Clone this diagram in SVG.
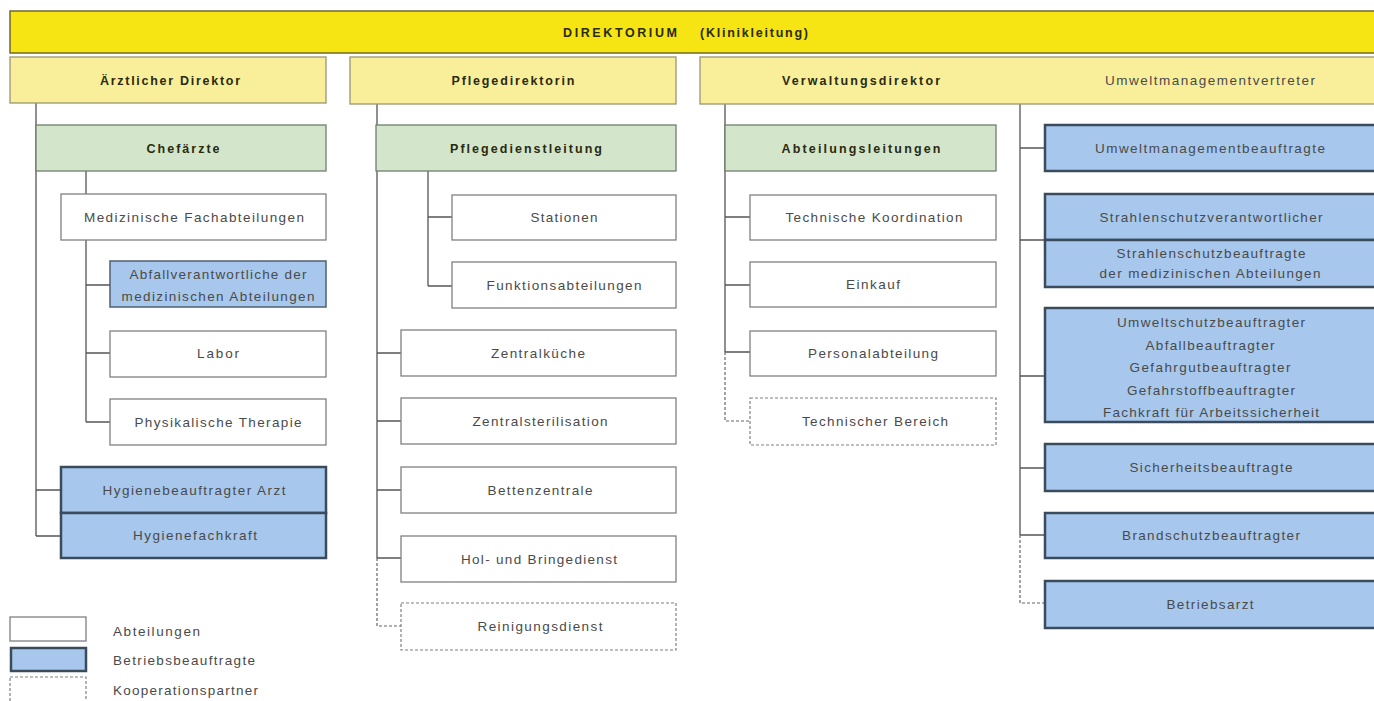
<svg xmlns="http://www.w3.org/2000/svg" width="1374" height="701" viewBox="0 0 1374 701">
<style>
text{font-family:"Liberation Sans",Arial,sans-serif;font-size:13.5px;fill:#4a4a4a;text-anchor:middle}
text.b{font-weight:bold;font-size:12.5px;fill:#2a2a10}
text.l{text-anchor:start}
.top{fill:#f6e512;stroke:#6f6a30;stroke-width:1.5}
.dir{fill:#f9ef9a;stroke:#9a9575;stroke-width:1.3}
.lead{fill:#d3e6cb;stroke:#6f7f6f;stroke-width:1.3}
.dept{fill:#fff;stroke:#808080;stroke-width:1.3}
.bb{fill:#a7c8ec;stroke:#3b4b5c;stroke-width:2.5}
.bbt{fill:#a7c8ec;stroke:#4f5f70;stroke-width:1.5}
.coop{fill:#fff;stroke:#808080;stroke-width:1.2;stroke-dasharray:3 2}
.c{fill:none;stroke:#555;stroke-width:1.3}
.cd{fill:none;stroke:#666;stroke-width:1.2;stroke-dasharray:3 2}
</style>
<rect width="1374" height="701" fill="#fff"/>
<g id="connectors">
<path class="c" d="M36 103V536M36 490H61M36 536H61"/>
<path class="c" d="M86 171V422M86 285H110M86 353H110M86 422H110"/>
<path class="c" d="M377 104V558M377 353H401M377 421H401M377 490H401M377 558H401"/>
<path class="cd" d="M377 558V626H401"/>
<path class="c" d="M428 171V286M428 217H452M428 286H452"/>
<path class="c" d="M725 104V352M725 217H750M725 285H750M725 352H750"/>
<path class="cd" d="M725 352V421H750"/>
<path class="c" d="M1020 104V535M1020 148H1045M1020 240H1045M1020 376H1045M1020 468H1045M1020 535H1045"/>
<path class="cd" d="M1020 535V603H1045"/>
</g>
<g id="direktorium"><rect class="top" x="10" y="11" width="1370" height="42"/>
<text class="b" x="620" y="37" textLength="114" lengthAdjust="spacing">DIREKTORIUM</text>
<text class="b" x="754" y="37" textLength="108" lengthAdjust="spacing">(Klinikleitung)</text></g>
<g id="aerztlicher-direktor"><rect class="dir" x="10" y="57" width="316" height="46"/><text class="b" x="170" y="85" textLength="140" lengthAdjust="spacing">Ärztlicher Direktor</text></g>
<g id="pflegedirektorin"><rect class="dir" x="350" y="57" width="326" height="47"/><text class="b" x="513" y="85" textLength="123" lengthAdjust="spacing">Pflegedirektorin</text></g>
<g id="verwaltungsdirektor"><rect class="dir" x="700" y="57" width="680" height="47"/><text class="b" x="861" y="85" textLength="158" lengthAdjust="spacing">Verwaltungsdirektor</text>
<text x="1210" y="85" textLength="210" lengthAdjust="spacing">Umweltmanagementvertreter</text></g>
<g id="chefaerzte"><rect class="lead" x="36" y="125" width="290" height="46"/><text class="b" x="183" y="153" textLength="73" lengthAdjust="spacing">Chefärzte</text></g>
<g id="pflegedienstleitung"><rect class="lead" x="376" y="125" width="300" height="46"/><text class="b" x="526" y="153" textLength="152" lengthAdjust="spacing">Pflegedienstleitung</text></g>
<g id="abteilungsleitungen"><rect class="lead" x="725" y="125" width="271" height="46"/><text class="b" x="861" y="153" textLength="159" lengthAdjust="spacing">Abteilungsleitungen</text></g>
<g id="med-fach"><rect class="dept" x="61" y="194" width="265" height="46"/><text x="194" y="222" textLength="220" lengthAdjust="spacing">Medizinische Fachabteilungen</text></g>
<g id="abfallverantwortliche"><rect class="bbt" x="110" y="261" width="216" height="46"/><text x="218" y="279" textLength="177" lengthAdjust="spacing">Abfallverantwortliche der</text><text x="218" y="301" textLength="193" lengthAdjust="spacing">medizinischen Abteilungen</text></g>
<g id="labor"><rect class="dept" x="110" y="331" width="216" height="46"/><text x="218" y="358" textLength="42" lengthAdjust="spacing">Labor</text></g>
<g id="phys-therapie"><rect class="dept" x="110" y="399" width="216" height="46"/><text x="218" y="427" textLength="167" lengthAdjust="spacing">Physikalische Therapie</text></g>
<g id="hygienebeauftragter"><rect class="bb" x="61" y="467" width="265" height="46"/><text x="194" y="495" textLength="183" lengthAdjust="spacing">Hygienebeauftragter Arzt</text></g>
<g id="hygienefachkraft"><rect class="bb" x="61" y="513" width="265" height="45"/><text x="195" y="540" textLength="124" lengthAdjust="spacing">Hygienefachkraft</text></g>
<g id="stationen"><rect class="dept" x="452" y="195" width="224" height="45"/><text x="564" y="222" textLength="67" lengthAdjust="spacing">Stationen</text></g>
<g id="funktionsabteilungen"><rect class="dept" x="452" y="262" width="224" height="46"/><text x="564" y="290" textLength="155" lengthAdjust="spacing">Funktionsabteilungen</text></g>
<g id="zentralkueche"><rect class="dept" x="401" y="330" width="275" height="46"/><text x="538" y="358" textLength="94" lengthAdjust="spacing">Zentralküche</text></g>
<g id="zentralsterilisation"><rect class="dept" x="401" y="398" width="275" height="46"/><text x="540" y="426" textLength="135" lengthAdjust="spacing">Zentralsterilisation</text></g>
<g id="bettenzentrale"><rect class="dept" x="401" y="467" width="275" height="46"/><text x="540" y="495" textLength="105" lengthAdjust="spacing">Bettenzentrale</text></g>
<g id="hol-bringedienst"><rect class="dept" x="401" y="536" width="275" height="46"/><text x="539" y="564" textLength="156" lengthAdjust="spacing">Hol- und Bringedienst</text></g>
<g id="reinigungsdienst"><rect class="coop" x="401" y="603" width="275" height="47"/><text x="540" y="631" textLength="125" lengthAdjust="spacing">Reinigungsdienst</text></g>
<g id="tech-koordination"><rect class="dept" x="750" y="195" width="246" height="45"/><text x="874" y="222" textLength="177" lengthAdjust="spacing">Technische Koordination</text></g>
<g id="einkauf"><rect class="dept" x="750" y="262" width="246" height="45"/><text x="873" y="289" textLength="54" lengthAdjust="spacing">Einkauf</text></g>
<g id="personalabteilung"><rect class="dept" x="750" y="331" width="246" height="45"/><text x="873" y="358" textLength="130" lengthAdjust="spacing">Personalabteilung</text></g>
<g id="tech-bereich"><rect class="coop" x="750" y="398" width="246" height="47"/><text x="875" y="426" textLength="146" lengthAdjust="spacing">Technischer Bereich</text></g>
<g id="umweltmanagementbeauftragte"><rect class="bb" x="1045" y="125" width="335" height="46"/><text x="1210" y="153" textLength="230" lengthAdjust="spacing">Umweltmanagementbeauftragte</text></g>
<g id="strahlenschutzverantwortlicher"><rect class="bb" x="1045" y="194" width="335" height="46"/><text x="1211" y="222" textLength="223" lengthAdjust="spacing">Strahlenschutzverantwortlicher</text></g>
<g id="strahlenschutzbeauftragte"><rect class="bb" x="1045" y="240" width="335" height="47"/><text x="1211" y="258" textLength="189" lengthAdjust="spacing">Strahlenschutzbeauftragte</text><text x="1210" y="278" textLength="221" lengthAdjust="spacing">der medizinischen Abteilungen</text></g>
<g id="umweltschutz"><rect class="bb" x="1045" y="308" width="335" height="114"/>
<text x="1211" y="327" textLength="188" lengthAdjust="spacing">Umweltschutzbeauftragter</text>
<text x="1210" y="350" textLength="129" lengthAdjust="spacing">Abfallbeauftragter</text>
<text x="1210" y="372" textLength="161" lengthAdjust="spacing">Gefahrgutbeauftragter</text>
<text x="1211" y="395" textLength="168" lengthAdjust="spacing">Gefahrstoffbeauftragter</text>
<text x="1211" y="417" textLength="216" lengthAdjust="spacing">Fachkraft für Arbeitssicherheit</text></g>
<g id="sicherheitsbeauftragte"><rect class="bb" x="1045" y="444" width="335" height="47"/><text x="1211" y="472" textLength="163" lengthAdjust="spacing">Sicherheitsbeauftragte</text></g>
<g id="brandschutzbeauftragter"><rect class="bb" x="1045" y="513" width="335" height="45"/><text x="1211" y="540" textLength="178" lengthAdjust="spacing">Brandschutzbeauftragter</text></g>
<g id="betriebsarzt"><rect class="bb" x="1045" y="581" width="335" height="47"/><text x="1210" y="609" textLength="87" lengthAdjust="spacing">Betriebsarzt</text></g>
<g id="legend">
<rect class="dept" x="10" y="617" width="76" height="24"/><text class="l" x="113" y="636" textLength="87" lengthAdjust="spacing">Abteilungen</text>
<rect class="bb" x="11" y="648" width="75" height="23"/><text class="l" x="113" y="665" textLength="142" lengthAdjust="spacing">Betriebsbeauftragte</text>
<rect class="coop" x="10" y="677" width="76" height="26"/><text class="l" x="113" y="695" textLength="145" lengthAdjust="spacing">Kooperationspartner</text>
</g>
</svg>
